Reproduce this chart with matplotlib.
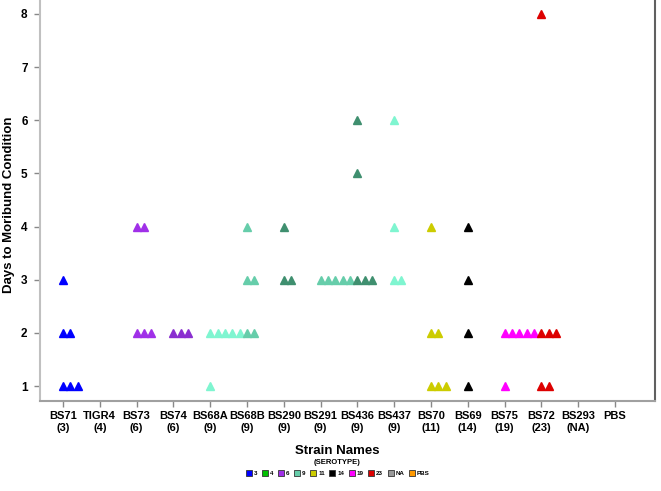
import matplotlib
matplotlib.use("Agg")
import matplotlib.pyplot as plt
from matplotlib.patches import Patch

plt.rcParams['font.family'] = ['Liberation Sans', 'DejaVu Sans']
plt.rcParams['font.weight'] = 'bold'

# strain names, serotypes and days to moribund condition for each mouse
strains = ["BS71", "TIGR4", "BS73", "BS74", "BS68A", "BS68B", "BS290", "BS291",
           "BS436", "BS437", "BS70", "BS69", "BS75", "BS72", "BS293", "PBS"]
serotypes = ["3", "4", "6", "6", "9", "9", "9", "9", "9", "9", "11", "14", "19", "23", "NA", ""]
days = [
    [1, 1, 1, 2, 2, 3],          # BS71
    [],                          # TIGR4
    [2, 2, 2, 4, 4],             # BS73
    [2, 2, 2],                   # BS74
    [1, 2, 2, 2, 2, 2],          # BS68A
    [2, 2, 3, 3, 4],             # BS68B
    [3, 3, 4],                   # BS290
    [3, 3, 3, 3, 3],             # BS291
    [3, 3, 3, 5, 6],             # BS436
    [3, 3, 4, 6],                # BS437
    [1, 1, 1, 2, 2, 4],          # BS70
    [1, 2, 3, 4],                # BS69
    [1, 2, 2, 2, 2, 2],          # BS75
    [1, 1, 2, 2, 2, 8],          # BS72
    [],                          # BS293
    [],                          # PBS
]
strain_colors = ["#0000ff", "#00c000", "#a030e8", "#8a2fd0", "#7ff5d0", "#66cdaa",
                 "#3f8f6f", "#66cdaa", "#3f8f6f", "#7ff5d0", "#cccc00", "#000000",
                 "#ff00ff", "#dd0000", "#999999", "#ff9900"]

legend_labels = ["3", "4", "6", "9", "11", "14", "19", "23", "NA", "PBS"]
legend_colors = ["#0000ff", "#00c000", "#a030e8", "#66cdaa", "#cccc00", "#000000",
                 "#ff00ff", "#dd0000", "#999999", "#ff9900"]

fig = plt.figure(figsize=(6.61, 4.91), dpi=100)
ax = fig.add_axes([40 / 661, 90 / 491, 615 / 661, 401 / 491])

step = 0.2
for i, (vals, col) in enumerate(zip(days, strain_colors)):
    counts = {}
    xs, ys = [], []
    for v in vals:
        k = counts.get(v, 0)
        counts[v] = k + 1
        xs.append(i + 1 + k * step)
        ys.append(v)
    if xs:
        ax.plot(xs, ys, linestyle='none', marker='^', ms=5.5, color=col, mec=col)

ax.set_xlim(0.375, 17.09)
ax.set_ylim(0.72, 8.26)
ax.set_xticks(range(1, len(strains) + 1))
ax.set_xticklabels([s + ("\n(" + t + ")" if t else "") for s, t in zip(strains, serotypes)],
                   fontsize=8, fontweight='bold', linespacing=1.25)
ax.set_yticks(range(1, 9))
ax.set_yticklabels([str(v) for v in range(1, 9)], fontsize=8.5, fontweight='bold')
ax.tick_params(axis='both', direction='out', length=4, color='#888888', width=1)
ax.tick_params(axis='x', pad=3)
ax.tick_params(axis='y', pad=5)

ax.spines['top'].set_visible(False)
ax.spines['left'].set_color('#c0c0c0')
ax.spines['left'].set_linewidth(1.5)
ax.spines['bottom'].set_color('#a0a0a0')
ax.spines['bottom'].set_linewidth(1.5)
ax.spines['right'].set_color('#606060')
ax.spines['right'].set_linewidth(1.5)

ax.set_ylabel("Days to Moribund Condition", fontsize=9.5, fontweight='bold', labelpad=3)
ax.yaxis.set_label_coords(-25 / 615, 0.49)

fig.text(337 / 661, 1 - 451 / 491, "Strain Names", ha='center', va='center',
         fontsize=9.5, fontweight='bold')
fig.text(337 / 661, 1 - 462 / 491, "(SEROTYPE)", ha='center', va='center',
         fontsize=5.5, fontweight='bold')

handles = [Patch(facecolor=c, edgecolor='#333333', linewidth=0.6) for c in legend_colors]
fig.legend(handles, legend_labels, loc='center', bbox_to_anchor=(338 / 661, 1 - 473 / 491),
           ncol=len(legend_labels), frameon=False, prop={'size': 4.5, 'weight': 'bold'},
           handlelength=1.0, handleheight=1.0, handletextpad=0.3, columnspacing=0.7)

fig.savefig("out.png", dpi=100)
